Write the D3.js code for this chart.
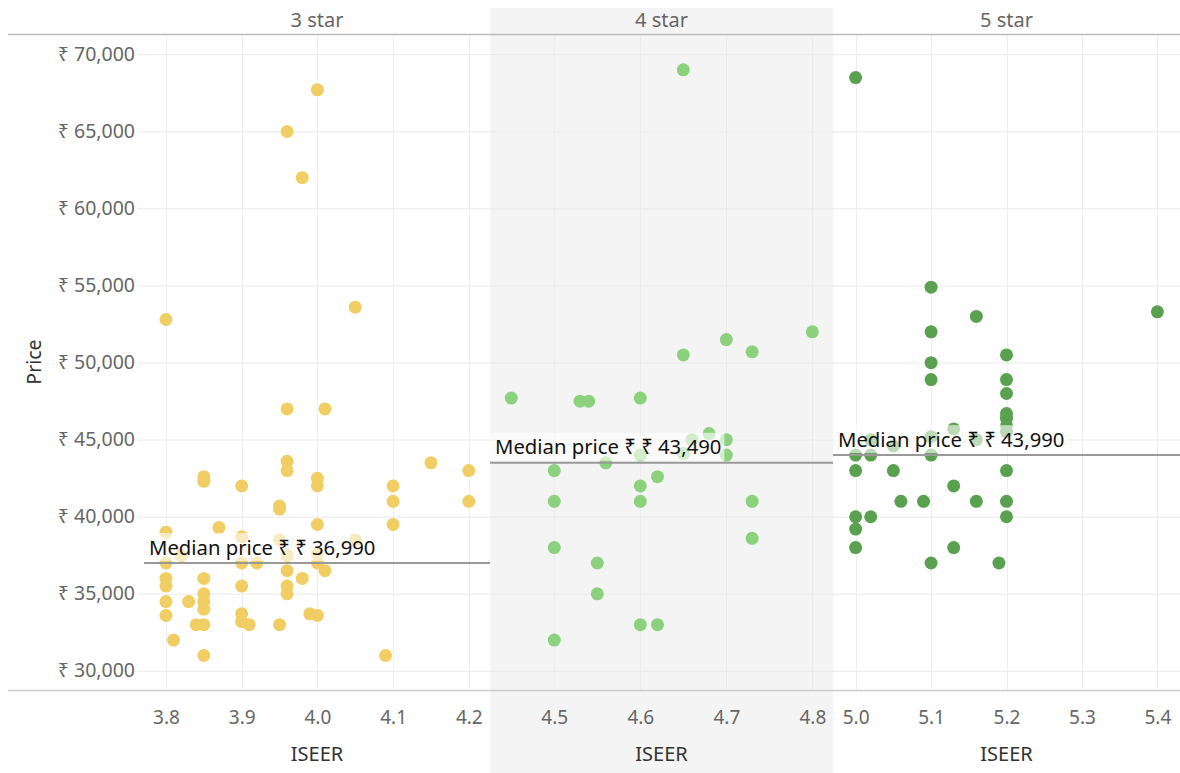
<!DOCTYPE html>
<html>
<head>
<meta charset="utf-8">
<script src="https://cdn.jsdelivr.net/npm/d3@7"></script>
<style>
  html, body { margin: 0; padding: 0; background: #fff; }
  svg { display: block; font-family: "Segoe UI", "Noto Sans", "Open Sans", sans-serif; }
</style>
</head>
<body>
<svg id="chart" width="1180" height="773"></svg>
<script>
// ---- data ----
const facets = ["3 star", "4 star", "5 star"];
const facetColors = ["#F1CE63", "#8CD17D", "#59A14F"];
const medianPrices = [36990, 43490, 43990];
const xTicks3 = [3.8, 3.9, 4.0, 4.1, 4.2];
const xTicks4 = [4.5, 4.6, 4.7, 4.8];
const xTicks5 = [5.0, 5.1, 5.2, 5.3, 5.4];
const yTicks = [30000, 35000, 40000, 45000, 50000, 55000, 60000, 65000, 70000];

const iseer3 = [3.8, 4.0, 3.96, 3.98, 4.05, 3.96, 4.01, 3.96, 3.96, 3.85, 3.85, 3.9, 4.0, 4.0, 4.15, 4.2, 4.2, 4.1, 4.1, 4.1, 3.95, 3.95, 4.0, 3.87,
  3.8, 3.9, 3.95, 4.05, 3.82, 3.96, 4.0, 4.0, 3.8, 3.9, 3.92, 3.96, 4.01, 3.98,
  3.8, 3.8, 3.85, 3.9, 3.96, 3.96, 3.85, 3.85, 3.85, 3.8, 3.83, 3.8, 3.9, 3.9, 3.91, 3.84, 3.85, 3.95, 3.99, 4.0, 3.81, 3.85, 4.09];
const price3 = [52790, 67690, 64990, 61990, 53590, 46990, 46990, 43590, 42990, 42590, 42290, 41990, 42490, 41990, 43490, 42990, 40990, 41990, 40990, 39490, 40690, 40490, 39490, 39290,
  38990, 38690, 38490, 38490, 37490, 37490, 37590, 36990, 36990, 36990, 36990, 36490, 36490, 35990,
  35990, 35490, 35990, 35490, 35490, 34990, 34990, 34490, 33990, 34490, 34490, 33590, 33690, 33190, 32990, 32990, 32990, 32990, 33690, 33590, 31990, 30990, 30990];

const iseer4 = [4.65, 4.7, 4.8, 4.65, 4.73, 4.45, 4.53, 4.54, 4.6, 4.66, 4.68, 4.7, 4.7, 4.65, 4.6, 4.56, 4.5, 4.62, 4.6, 4.5, 4.6, 4.73, 4.73, 4.5, 4.55, 4.55, 4.6, 4.62, 4.5];
const price4 = [68990, 51490, 51990, 50490, 50690, 47690, 47490, 47490, 47690, 44990, 45390, 44990, 43990, 44090, 43990, 43490, 42990, 42590, 41990, 40990, 40990, 40990, 38590, 37990, 36990, 34990, 32990, 32990, 31990];

const iseer5 = [5.0, 5.1, 5.16, 5.1, 5.4, 5.1, 5.1, 5.2, 5.2, 5.2, 5.2, 5.2, 5.2, 5.2, 5.13, 5.16, 5.1, 5.02, 5.05,
  5.0, 5.02, 5.1, 5.0, 5.05, 5.2, 5.13, 5.06, 5.09, 5.16, 5.2, 5.0, 5.02, 5.2, 5.0, 5.0, 5.13, 5.1, 5.19];
const price5 = [68490, 54890, 52990, 51990, 53290, 49990, 48890, 50490, 48890, 47990, 46690, 46390, 45890, 45490, 45690, 44990, 45190, 44990, 44590,
  43990, 43990, 43990, 42990, 42990, 42990, 41990, 40990, 40990, 40990, 40990, 39990, 39990, 39990, 39190, 37990, 37990, 36990, 36990];

// ---- layout ----
const svg = d3.select("#chart");
const FONT = "'Segoe UI','Noto Sans','Open Sans',sans-serif";
const plotTop = 35, plotBottom = 690;
const panels = [
  { x0: 144, x1: 490, domain: [3.771, 4.228], ticks: xTicks3, iseer: iseer3, price: price3 },
  { x0: 490, x1: 833, domain: [4.4253, 4.824], ticks: xTicks4, iseer: iseer4, price: price4 },
  { x0: 833, x1: 1180, domain: [4.97, 5.43], ticks: xTicks5, iseer: iseer5, price: price5 }
];
const y = d3.scaleLinear().domain([28750, 71250]).range([plotBottom, plotTop]);

// shaded middle facet
svg.append("rect").attr("x", panels[1].x0).attr("y", 8)
  .attr("width", panels[1].x1 - panels[1].x0).attr("height", 773 - 8)
  .attr("fill", "#f4f4f4");

// horizontal grid
svg.append("g").selectAll("line").data(yTicks).join("line")
  .attr("x1", 138).attr("x2", 1180)
  .attr("y1", d => y(d) + 0.5).attr("y2", d => y(d) + 0.5)
  .attr("stroke", "#e9e9e9").attr("stroke-width", 1);

// y axis labels
const yAxis = d3.axisLeft(y).tickValues(yTicks).tickSize(0).tickPadding(0)
  .tickFormat(d => "₹ " + d3.format(",")(d));
const yg = svg.append("g").attr("transform", "translate(135,0)").call(yAxis);
yg.select(".domain").remove();
yg.selectAll("text").attr("fill", "#666").style("font-size", "19.5px").style("font-family", FONT);

svg.append("text").attr("transform", "translate(41,362) rotate(-90)")
  .attr("text-anchor", "middle").attr("fill", "#333").style("font-size", "19.5px").text("Price");

panels.forEach((p, i) => {
  const x = d3.scaleLinear().domain(p.domain).range([p.x0, p.x1]);
  // vertical grid
  svg.append("g").selectAll("line").data(p.ticks).join("line")
    .attr("x1", d => Math.round(x(d)) + 0.5).attr("x2", d => Math.round(x(d)) + 0.5)
    .attr("y1", plotTop).attr("y2", plotBottom)
    .attr("stroke", i === 1 ? "#ebebeb" : "#eeeeee").attr("stroke-width", 1);

  // x axis labels
  const xAxis = d3.axisBottom(x).tickValues(p.ticks).tickSize(0).tickPadding(0).tickFormat(d3.format(".1f"));
  const xg = svg.append("g").attr("transform", `translate(0,${plotBottom + 20})`).call(xAxis);
  xg.select(".domain").remove();
  xg.selectAll("text").attr("fill", "#666").style("font-size", "19px").style("font-family", FONT);

  // axis title
  svg.append("text").attr("x", (p.x0 + p.x1) / 2).attr("y", 761)
    .attr("text-anchor", "middle").attr("fill", "#333").style("font-size", "20px").text("ISEER");

  // facet header
  svg.append("text").attr("x", (p.x0 + p.x1) / 2).attr("y", 27)
    .attr("text-anchor", "middle").attr("fill", "#666").style("font-size", "20px").text(facets[i]);

  // points
  const pts = p.iseer.map((v, k) => ({ x: v, y: p.price[k] }));
  svg.append("g").selectAll("circle").data(pts).join("circle")
    .attr("cx", d => x(d.x)).attr("cy", d => y(d.y)).attr("r", 6.5)
    .attr("fill", facetColors[i]);

  // median line
  const my = y(medianPrices[i]);
  svg.append("line").attr("x1", p.x0).attr("x2", p.x1).attr("y1", my).attr("y2", my)
    .attr("stroke", "#999").attr("stroke-width", 2);

  const lg = svg.append("g");
  const bg = lg.append("rect").attr("fill", "#fff").attr("fill-opacity", 0.6);
  const t = lg.append("text").attr("x", p.x0 + 5).attr("y", my - 8.5)
    .attr("fill", "#111").style("font-size", "20.3px")
    .text("Median price ₹ " + "₹ " + d3.format(",")(medianPrices[i]));
  const w = t.node().getComputedTextLength();
  bg.attr("x", p.x0).attr("y", my - 30).attr("width", w + 8).attr("height", 28);
});

// frame lines
svg.append("line").attr("x1", 8).attr("x2", 1180).attr("y1", 34.5).attr("y2", 34.5)
  .attr("stroke", "#bbb").attr("stroke-width", 1.5);
svg.append("line").attr("x1", 8).attr("x2", 1180).attr("y1", 690.5).attr("y2", 690.5)
  .attr("stroke", "#ccc").attr("stroke-width", 1.5);
</script>
</body>
</html>
